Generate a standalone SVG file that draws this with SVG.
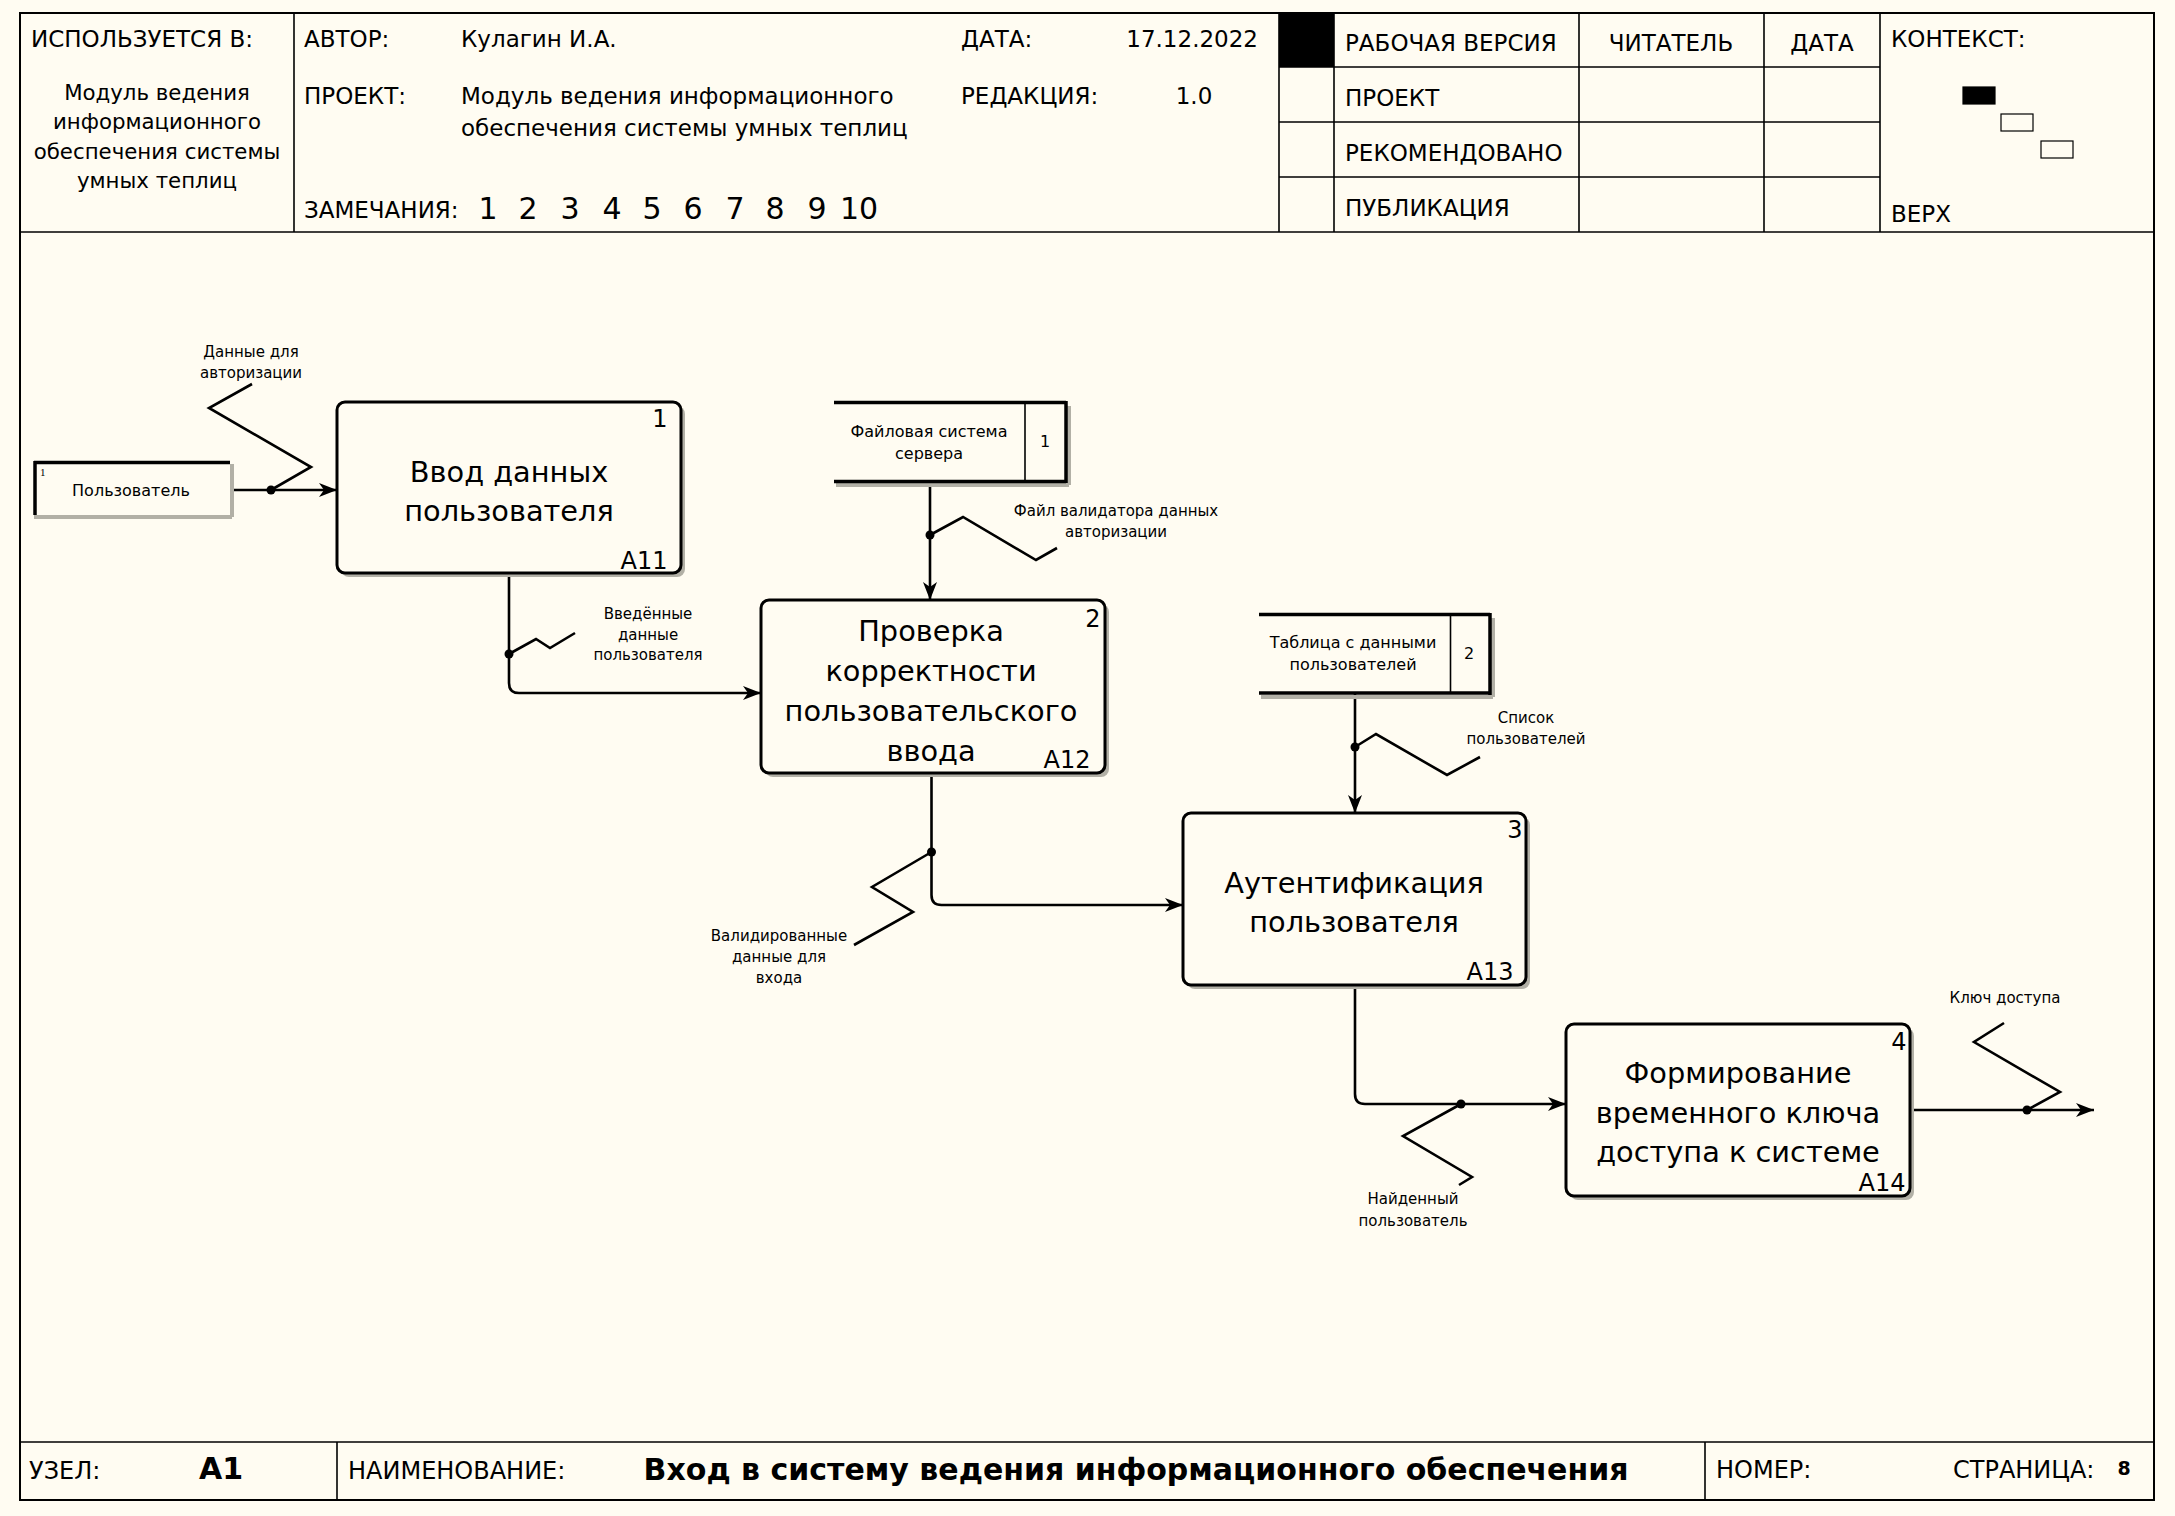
<svg xmlns="http://www.w3.org/2000/svg" width="2175" height="1516" viewBox="0 0 2175 1516">
<defs>
<style>
text{font-family:"DejaVu Sans","Liberation Sans",sans-serif;fill:#000}
.hdr{font-size:23px}
.hbig{font-size:30px}
.cell{font-size:21.3px;text-anchor:middle}
.frame{fill:none;stroke:#000;stroke-width:2}
.grid{stroke:#000;stroke-width:1.6;fill:none}
.box{fill:#FFFCF2;stroke:#000;stroke-width:3}
.shadow{fill:#B2B0A6}
.title{font-size:28.8px;text-anchor:middle}
.num{font-size:24px;text-anchor:middle}
.lbl{font-size:15px;text-anchor:middle}
.st{font-size:16px;text-anchor:middle}
.conn{fill:none;stroke:#000;stroke-width:2.6}
.sq{fill:none;stroke:#000;stroke-width:2.6}
.thick{stroke:#000;stroke-width:3.5}
.shl{stroke:#B2B0A6;stroke-width:4}
.ftr{font-size:24px}
</style>
<marker id="arr" markerUnits="userSpaceOnUse" markerWidth="20" markerHeight="16" refX="18" refY="8" orient="auto">
<path d="M0,1 L18,8 L0,15 L5,8 Z" fill="#000"/>
</marker>
</defs>
<rect x="0" y="0" width="2175" height="1516" fill="#FFFCF2"/>

<g id="frame">
<rect class="frame" x="20" y="13" width="2134" height="1487"/>
<line class="grid" x1="20" y1="232" x2="2154" y2="232"/>
<line class="grid" x1="294" y1="13" x2="294" y2="232"/>
<line class="grid" x1="1279" y1="13" x2="1279" y2="232"/>
<line class="grid" x1="1334" y1="13" x2="1334" y2="232"/>
<line class="grid" x1="1579" y1="13" x2="1579" y2="232"/>
<line class="grid" x1="1764" y1="13" x2="1764" y2="232"/>
<line class="grid" x1="1880" y1="13" x2="1880" y2="232"/>
<line class="grid" x1="1279" y1="67" x2="1880" y2="67"/>
<line class="grid" x1="1279" y1="122" x2="1880" y2="122"/>
<line class="grid" x1="1279" y1="177" x2="1880" y2="177"/>
<rect x="1279" y="13" width="55" height="54" fill="#000"/>
<line class="grid" x1="20" y1="1442" x2="2154" y2="1442"/>
<line class="grid" x1="337" y1="1442" x2="337" y2="1500"/>
<line class="grid" x1="1705" y1="1442" x2="1705" y2="1500"/>
</g>

<g id="header">
<text class="hdr" x="31" y="47">ИСПОЛЬЗУЕТСЯ В:</text>
<text class="cell" x="157" y="100">Модуль ведения</text>
<text class="cell" x="157" y="129">информационного</text>
<text class="cell" x="157" y="159">обеспечения системы</text>
<text class="cell" x="157" y="188">умных теплиц</text>
<text class="hdr" x="304" y="47">АВТОР:</text>
<text class="hdr" x="461" y="47">Кулагин И.А.</text>
<text class="hdr" x="961" y="47">ДАТА:</text>
<text class="hdr" x="1258" y="47" text-anchor="end">17.12.2022</text>
<text class="hdr" x="304" y="104">ПРОЕКТ:</text>
<text class="hdr" x="461" y="104">Модуль ведения информационного</text>
<text class="hdr" x="461" y="136">обеспечения системы умных теплиц</text>
<text class="hdr" x="961" y="104">РЕДАКЦИЯ:</text>
<text class="hdr" x="1194" y="104" text-anchor="middle">1.0</text>
<text class="hdr" x="304" y="218">ЗАМЕЧАНИЯ:</text>
<g class="hbig" text-anchor="middle">
<text x="488" y="219">1</text><text x="528" y="219">2</text><text x="570" y="219">3</text><text x="612" y="219">4</text><text x="652" y="219">5</text><text x="693" y="219">6</text><text x="735" y="219">7</text><text x="775" y="219">8</text><text x="817" y="219">9</text><text x="859" y="219">10</text>
</g>
<text class="hdr" x="1345" y="51">РАБОЧАЯ ВЕРСИЯ</text>
<text class="hdr" x="1671" y="51" text-anchor="middle">ЧИТАТЕЛЬ</text>
<text class="hdr" x="1822" y="51" text-anchor="middle">ДАТА</text>
<text class="hdr" x="1345" y="106">ПРОЕКТ</text>
<text class="hdr" x="1345" y="161">РЕКОМЕНДОВАНО</text>
<text class="hdr" x="1345" y="216">ПУБЛИКАЦИЯ</text>
<text class="hdr" x="1891" y="47">КОНТЕКСТ:</text>
<text class="hdr" x="1891" y="222">ВЕРХ</text>
<rect x="1963" y="87" width="32" height="17" fill="#000" stroke="#000" stroke-width="1.2"/>
<rect x="2001" y="114" width="32" height="17" fill="#FFFCF2" stroke="#000" stroke-width="1.2"/>
<rect x="2041" y="141" width="32" height="17" fill="#FFFCF2" stroke="#000" stroke-width="1.2"/>
</g>

<g id="footer">
<text class="ftr" x="29" y="1479">УЗЕЛ:</text>
<text x="221" y="1479" font-size="30" font-weight="bold" text-anchor="middle">A1</text>
<text class="ftr" x="348" y="1479">НАИМЕНОВАНИЕ:</text>
<text x="1136" y="1480" font-size="30" font-weight="bold" text-anchor="middle">Вход в систему ведения информационного обеспечения</text>
<text class="ftr" x="1716" y="1478">НОМЕР:</text>
<text class="ftr" x="1953" y="1478">СТРАНИЦА:</text>
<text x="2124" y="1475" font-size="19" font-weight="bold" text-anchor="middle">8</text>
</g>

<g id="connectors">
<line class="conn" x1="230" y1="490" x2="337" y2="490" marker-end="url(#arr)"/>
<path class="conn" d="M509,573 V683 Q509,693 519,693 H761" marker-end="url(#arr)"/>
<line class="conn" x1="930" y1="482" x2="930" y2="600" marker-end="url(#arr)"/>
<path class="conn" d="M931.5,773 V895 Q931.5,905 941.5,905 H1183" marker-end="url(#arr)"/>
<line class="conn" x1="1355" y1="693" x2="1355" y2="813" marker-end="url(#arr)"/>
<path class="conn" d="M1355,985 V1094 Q1355,1104 1365,1104 H1566" marker-end="url(#arr)"/>
<line class="conn" x1="1910" y1="1110" x2="2094" y2="1110" marker-end="url(#arr)"/>
<polyline class="sq" points="271,490 311,467 209,408 252,384"/>
<polyline class="sq" points="509,654 536,639 550,648 575,633"/>
<polyline class="sq" points="930,535 963,517 1036,560 1057,548"/>
<polyline class="sq" points="931.5,852 872,887 913,912 854,945"/>
<polyline class="sq" points="1355,747 1376,734 1447,775 1480,757"/>
<polyline class="sq" points="1461,1104 1403,1136 1472,1177 1459,1185"/>
<polyline class="sq" points="2027,1110 2060,1092 1974,1042 2004,1023"/>
<circle cx="271" cy="490" r="4.5"/>
<circle cx="509" cy="654" r="4.5"/>
<circle cx="930" cy="535" r="4.5"/>
<circle cx="931.5" cy="852" r="4.5"/>
<circle cx="1355" cy="747" r="4.5"/>
<circle cx="1461" cy="1104" r="4.5"/>
<circle cx="2027" cy="1110" r="4.5"/>
<text class="lbl" x="251" y="357">Данные для</text>
<text class="lbl" x="251" y="378">авторизации</text>
<text class="lbl" x="648" y="619">Введённые</text>
<text class="lbl" x="648" y="640">данные</text>
<text class="lbl" x="648" y="660">пользователя</text>
<text class="lbl" x="1116" y="516">Файл валидатора данных</text>
<text class="lbl" x="1116" y="537">авторизации</text>
<text class="lbl" x="779" y="941">Валидированные</text>
<text class="lbl" x="779" y="962">данные для</text>
<text class="lbl" x="779" y="983">входа</text>
<text class="lbl" x="1526" y="723">Список</text>
<text class="lbl" x="1526" y="744">пользователей</text>
<text class="lbl" x="1413" y="1204">Найденный</text>
<text class="lbl" x="1413" y="1226">пользователь</text>
<text class="lbl" x="2005" y="1003">Ключ доступа</text>
</g>

<g id="entity-user">
<line class="shl" x1="232" y1="464" x2="232" y2="517"/>
<line class="shl" x1="34" y1="517" x2="232" y2="517"/>
<line class="thick" x1="34" y1="462.5" x2="230" y2="462.5"/>
<line class="thick" x1="35" y1="461" x2="35" y2="515"/>
<text x="40" y="476" font-size="11" style="font-family:'Liberation Serif',serif">1</text>
<text class="st" x="131" y="496">Пользователь</text>
</g>

<g id="store-1">
<line class="shl" x1="836" y1="485" x2="1069" y2="485"/>
<line class="shl" x1="1069" y1="406" x2="1069" y2="485"/>
<line class="thick" x1="834" y1="402.5" x2="1066" y2="402.5"/>
<line class="thick" x1="834" y1="481.5" x2="1066" y2="481.5"/>
<line class="thick" x1="1066" y1="401" x2="1066" y2="483"/>
<line class="grid" x1="1025" y1="402" x2="1025" y2="482"/>
<text class="st" x="929" y="437">Файловая система</text>
<text class="st" x="929" y="459">сервера</text>
<text class="st" x="1045" y="447">1</text>
</g>

<g id="store-2">
<line class="shl" x1="1261" y1="697" x2="1493" y2="697"/>
<line class="shl" x1="1493" y1="618" x2="1493" y2="697"/>
<line class="thick" x1="1259" y1="614.5" x2="1490" y2="614.5"/>
<line class="thick" x1="1259" y1="693" x2="1490" y2="693"/>
<line class="thick" x1="1490" y1="613" x2="1490" y2="695"/>
<line class="grid" x1="1450.5" y1="614" x2="1450.5" y2="693"/>
<text class="st" x="1353" y="648">Таблица с данными</text>
<text class="st" x="1353" y="670">пользователей</text>
<text class="st" x="1469" y="659">2</text>
</g>

<g id="A11">
<rect class="shadow" x="341" y="406" width="344" height="171" rx="8"/>
<rect class="box" x="337" y="402" width="344" height="171" rx="8"/>
<text class="title" x="509" y="482">Ввод данных</text>
<text class="title" x="509" y="521">пользователя</text>
<text class="num" x="660" y="427">1</text>
<text class="num" x="644" y="569">A11</text>
</g>

<g id="A12">
<rect class="shadow" x="765" y="604" width="344" height="173" rx="8"/>
<rect class="box" x="761" y="600" width="344" height="173" rx="8"/>
<text class="title" x="931" y="641">Проверка</text>
<text class="title" x="931" y="681">корректности</text>
<text class="title" x="931" y="721">пользовательского</text>
<text class="title" x="931" y="761">ввода</text>
<text class="num" x="1093" y="627">2</text>
<text class="num" x="1067" y="768">A12</text>
</g>

<g id="A13">
<rect class="shadow" x="1187" y="817" width="343" height="172" rx="8"/>
<rect class="box" x="1183" y="813" width="343" height="172" rx="8"/>
<text class="title" x="1354" y="893">Аутентификация</text>
<text class="title" x="1354" y="932">пользователя</text>
<text class="num" x="1515" y="838">3</text>
<text class="num" x="1490" y="980">A13</text>
</g>

<g id="A14">
<rect class="shadow" x="1570" y="1028" width="344" height="172" rx="8"/>
<rect class="box" x="1566" y="1024" width="344" height="172" rx="8"/>
<text class="title" x="1738" y="1083">Формирование</text>
<text class="title" x="1738" y="1123">временного ключа</text>
<text class="title" x="1738" y="1162">доступа к системе</text>
<text class="num" x="1899" y="1050">4</text>
<text class="num" x="1882" y="1191">A14</text>
</g>
</svg>
